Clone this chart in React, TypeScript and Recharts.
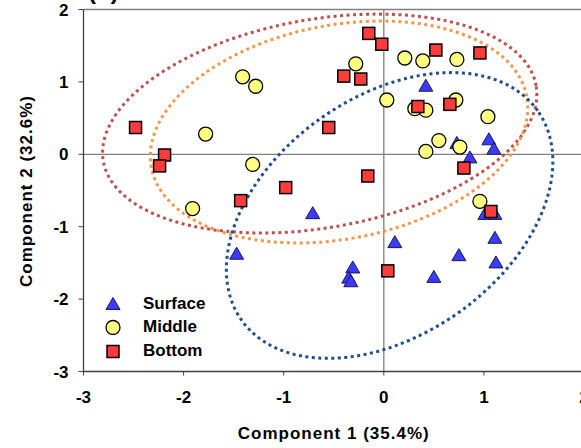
import { ScatterChart, Scatter, XAxis, YAxis, ReferenceLine } from 'recharts';

const ticks = [-3, -2, -1, 0, 1, 2];

const surface = [
  { x: 0.42, y: 0.94 }, { x: 0.73, y: 0.15 }, { x: 0.86, y: -0.05 }, { x: 1.05, y: 0.2 },
  { x: 1.1, y: 0.07 }, { x: 1.01, y: -0.83 }, { x: 1.11, y: -0.83 }, { x: 1.11, y: -1.16 },
  { x: 1.12, y: -1.5 }, { x: 0.75, y: -1.4 }, { x: 0.5, y: -1.7 }, { x: 0.11, y: -1.22 },
  { x: -0.31, y: -1.57 }, { x: -0.35, y: -1.71 }, { x: -0.33, y: -1.76 }, { x: -0.71, y: -0.82 },
  { x: -1.47, y: -1.38 },
];

const middle = [
  { x: -1.78, y: 0.28 }, { x: -1.31, y: -0.14 }, { x: -1.41, y: 1.07 }, { x: -1.28, y: 0.94 },
  { x: -1.91, y: -0.75 }, { x: -0.28, y: 1.25 }, { x: 0.21, y: 1.33 }, { x: 0.39, y: 1.29 },
  { x: 0.73, y: 1.31 }, { x: 0.03, y: 0.75 }, { x: 0.31, y: 0.63 }, { x: 0.42, y: 0.61 },
  { x: 0.72, y: 0.75 }, { x: 1.04, y: 0.52 }, { x: 0.55, y: 0.19 }, { x: 0.42, y: 0.04 },
  { x: 0.76, y: 0.1 }, { x: 0.96, y: -0.65 },
];

const bottom = [
  { x: -2.48, y: 0.37 }, { x: -2.19, y: -0.01 }, { x: -2.24, y: -0.16 }, { x: -0.98, y: -0.46 },
  { x: -1.43, y: -0.64 }, { x: -0.55, y: 0.37 }, { x: -0.15, y: 1.67 }, { x: -0.02, y: 1.52 },
  { x: -0.4, y: 1.08 }, { x: -0.23, y: 1.04 }, { x: 0.52, y: 1.44 }, { x: 0.96, y: 1.4 },
  { x: 0.34, y: 0.66 }, { x: 0.66, y: 0.69 }, { x: 0.8, y: -0.19 }, { x: -0.16, y: -0.3 },
  { x: 1.07, y: -0.79 }, { x: 0.04, y: -1.61 },
];

// dotted ellipses: centre plus two conjugate semi-axis vectors (data units)
const ellipses = [
  { key: 'e-bottom', color: '#C0504D', cx: -0.64, cy: 0.425, ax: 2.162, ay: 0.521, bx: -0.179, by: 1.419 },
  { key: 'e-middle', color: '#F79646', cx: -0.447, cy: 0.308, ax: 1.875, ay: 0.493, bx: -0.2, by: 1.451 },
  { key: 'e-surface', color: '#1F4E8C', cx: 0.058, cy: -0.845, ax: 1.479, ay: 1.447, bx: -0.688, by: 1.342 },
];

const font = '"Liberation Sans", Arial, sans-serif';

function outline(e: any) {
  const pts = [];
  for (let i = 0; i <= 160; i++) {
    const t = (i / 160) * Math.PI * 2;
    pts.push({
      x: e.cx + e.ax * Math.cos(t) + e.bx * Math.sin(t),
      y: e.cy + e.ay * Math.cos(t) + e.by * Math.sin(t),
    });
  }
  return pts;
}

const Triangle = ({ cx, cy }: any) => (
  <polygon
    points={`${cx},${cy - 7} ${cx - 7},${cy + 5} ${cx + 7},${cy + 5}`}
    fill='#3B3BFF'
    stroke='#1a1a55'
    strokeWidth={1}
  />
);
const Circle = ({ cx, cy }: any) => (
  <circle cx={cx} cy={cy} r={7} fill='#FFFF80' stroke='#000' strokeWidth={1.3} />
);
const Square = ({ cx, cy }: any) => (
  <rect x={cx - 6} y={cy - 6} width={12} height={12} fill='#FF3B3B' stroke='#000' strokeWidth={1.5} />
);

const groups = [
  { name: 'Surface', Icon: Triangle },
  { name: 'Middle', Icon: Circle },
  { name: 'Bottom', Icon: Square },
];

const LegendBox = () => (
  <div
    style={{
      position: 'absolute', left: 105, top: 292.5,
      fontFamily: font, fontWeight: 'bold', fontSize: 17, color: '#000',
    }}
  >
    {groups.map(({ name, Icon }) => (
      <div key={name} style={{ display: 'flex', alignItems: 'center', height: 23.3 }}>
        <svg width={16} height={16} style={{ marginRight: 22 }}>
          <Icon cx={8} cy={8.5} />
        </svg>
        <span>{name}</span>
      </div>
    ))}
  </div>
);

export default function App() {
  const tickStyle = { fill: '#000', fontSize: 17, fontWeight: 'bold', fontFamily: font };
  return (
    <div style={{ position: 'absolute', left: 0, top: 0, width: 581, height: 448, overflow: 'hidden', background: '#fff' }}>
      <div style={{ position: 'absolute', left: 88, top: -21, fontFamily: font, fontWeight: 'bold', fontSize: 24, lineHeight: 1 }}>
        (b)
      </div>
      <ScatterChart width={600} height={448} margin={{ top: 9.5, right: 16, bottom: 0, left: 0 }}>
        <XAxis
          type='number'
          dataKey='x'
          domain={[-3, 2]}
          ticks={ticks}
          height={76.5}
          tickSize={4}
          tickMargin={15}
          axisLine={{ stroke: '#404040', strokeWidth: 1.3 }}
          tickLine={{ stroke: '#404040' }}
          tick={tickStyle}
          allowDataOverflow
        />
        <YAxis
          type='number'
          dataKey='y'
          domain={[-3, 2]}
          ticks={ticks}
          width={83.5}
          tickSize={5}
          tickMargin={10}
          axisLine={{ stroke: '#404040', strokeWidth: 1.3 }}
          tickLine={{ stroke: '#404040' }}
          tick={tickStyle}
          allowDataOverflow
        />
        <ReferenceLine y={2} stroke='#808080' strokeWidth={1.3} />
        <ReferenceLine x={0} stroke='#808080' strokeWidth={1.3} />
        <ReferenceLine y={0} stroke='#808080' strokeWidth={1.3} />
        {ellipses.map(e => (
          <Scatter
            key={e.key}
            name={e.key}
            data={outline(e)}
            line={{ stroke: e.color, strokeWidth: 3, strokeDasharray: '3 3.5' }}
            shape={() => <g />}
            legendType='none'
            isAnimationActive={false}
          />
        ))}
        <Scatter name='Surface' data={surface} shape={Triangle} isAnimationActive={false} />
        <Scatter name='Middle' data={middle} shape={Circle} isAnimationActive={false} />
        <Scatter name='Bottom' data={bottom} shape={Square} isAnimationActive={false} />
      </ScatterChart>
      <LegendBox />
      <div
        style={{
          position: 'absolute', left: 333.75, top: 424.5, transform: 'translateX(-50%)',
          fontFamily: font, fontWeight: 'bold', fontSize: 17, letterSpacing: 1, lineHeight: 1, whiteSpace: 'nowrap',
        }}
      >
        Component 1 (35.4%)
      </div>
      <div
        style={{
          position: 'absolute', left: 26, top: 190.5, transform: 'translate(-50%, -50%) rotate(-90deg)',
          fontFamily: font, fontWeight: 'bold', fontSize: 17, letterSpacing: 1, lineHeight: 1, whiteSpace: 'nowrap',
        }}
      >
        Component 2 (32.6%)
      </div>
    </div>
  );
}
